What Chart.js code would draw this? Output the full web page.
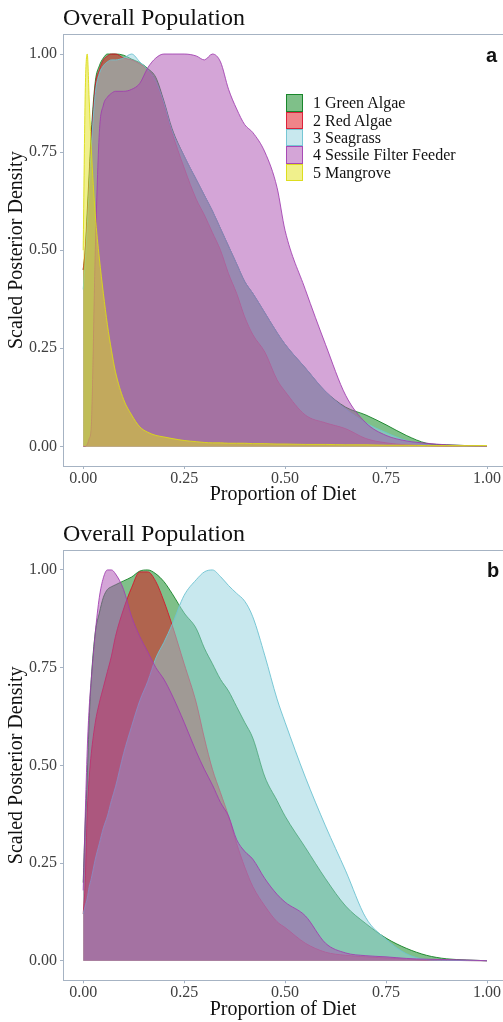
<!DOCTYPE html>
<html lang="en">
<head>
<meta charset="UTF-8">
<title>Overall Population</title>
<script src="https://cdn.jsdelivr.net/npm/chart.js@4"></script>
<style>
  body { margin: 0; width: 503px; height: 1022px; overflow: hidden; background: #fff; position: relative; font-family: "Liberation Serif", "Times New Roman", serif; }
  .panel { position: absolute; left: 0; width: 503px; }
  .panel canvas { position: absolute; left: 0; top: 0; }
  .title { position: absolute; left: 63px; font-size: 24px; line-height: 24px; color: #111; white-space: nowrap; }
  .tag { position: absolute; font-family: "Liberation Sans", Arial, sans-serif; font-weight: bold; font-size: 20px; line-height: 20px; color: #111; }
  .legend { position: absolute; left: 286px; top: 94.3px; font-size: 16px; color: #111; }
  .legend div { height: 17.4px; line-height: 17.4px; white-space: nowrap; }
  .legend .key { display: inline-block; width: 17px; height: 17.4px; box-sizing: border-box; border: 1px solid; vertical-align: top; margin-right: 10px; }
</style>
</head>
<body>
  <!-- panel a -->
  <div class="panel" style="top:0;height:510px">
    <canvas id="chartA" width="503" height="510"></canvas>
    <div class="title" style="top:5.3px">Overall Population</div>
    <div class="tag" style="left:486px;top:45px">a</div>
    <div class="legend" id="legendA"></div>
  </div>
  <!-- panel b -->
  <div class="panel" style="top:510px;height:512px">
    <canvas id="chartB" width="503" height="512"></canvas>
    <div class="title" style="top:10.8px">Overall Population</div>
    <div class="tag" style="left:487px;top:50px">b</div>
  </div>

<script>
// proportion of diet grid shared by all curves
const xs = [0, 0.005, 0.01, 0.015, 0.02, 0.03, 0.04, 0.05, 0.06, 0.07, 0.08, 0.10, 0.12, 0.14, 0.16, 0.18, 0.20, 0.22, 0.25, 0.28,
            0.30, 0.32, 0.34, 0.36, 0.38, 0.40, 0.42, 0.45, 0.48, 0.50, 0.55, 0.60, 0.65, 0.70, 0.75, 0.80, 0.85, 0.90, 0.95, 1.00];

const sourceNames = ["1 Green Algae", "2 Red Algae", "3 Seagrass", "4 Sessile Filter Feeder", "5 Mangrove"];

// panel a - scaled posterior density
const greenA    = [0.45, 0.5, 0.6, 0.7, 0.8, 0.93, 0.97, 0.99, 1.0, 1.0, 1.0, 0.997, 0.987, 0.978, 0.963, 0.94, 0.88, 0.81, 0.74, 0.68,
                   0.64, 0.6, 0.555, 0.51, 0.465, 0.42, 0.39, 0.34, 0.29, 0.26, 0.2, 0.14, 0.1, 0.08, 0.055, 0.028, 0.008, 0.004, 0.002, 0];
const redA      = [0.45, 0.5, 0.58, 0.68, 0.78, 0.92, 0.96, 0.985, 0.995, 1.0, 1.0, 0.99, 0.985, 0.975, 0.96, 0.93, 0.87, 0.8, 0.71, 0.63,
                   0.59, 0.545, 0.5, 0.44, 0.39, 0.33, 0.285, 0.24, 0.17, 0.14, 0.08, 0.06, 0.045, 0.02, 0.009, 0.004, 0.002, 0.001, 0.0005, 0];
const seagrassA = [0.4, 0.47, 0.56, 0.66, 0.76, 0.9, 0.95, 0.97, 0.98, 0.985, 0.985, 0.99, 1.0, 0.98, 0.96, 0.93, 0.875, 0.805, 0.74, 0.68,
                   0.64, 0.6, 0.555, 0.51, 0.465, 0.42, 0.39, 0.34, 0.29, 0.26, 0.2, 0.14, 0.095, 0.06, 0.035, 0.015, 0.004, 0.002, 0.001, 0];
const sessileA  = [0, 0, 0.005, 0.02, 0.05, 0.5, 0.8, 0.87, 0.89, 0.9, 0.905, 0.905, 0.91, 0.925, 0.965, 0.99, 1.0, 1.0, 1.0, 0.995,
                   0.985, 1.0, 0.98, 0.91, 0.86, 0.82, 0.8, 0.75, 0.66, 0.55, 0.4, 0.26, 0.13, 0.06, 0.028, 0.014, 0.008, 0.004, 0.002, 0];
const mangroveA = [0.5, 0.9, 1.0, 0.88, 0.76, 0.59, 0.48, 0.39, 0.31, 0.245, 0.19, 0.12, 0.08, 0.05, 0.036, 0.028, 0.024, 0.02, 0.015, 0.012,
                   0.01, 0.009, 0.009, 0.008, 0.008, 0.008, 0.007, 0.007, 0.006, 0.006, 0.005, 0.005, 0.004, 0.004, 0.003, 0.003, 0.002, 0.002, 0.002, 0.002];

// panel b
const greenB    = [0.2, 0.35, 0.47, 0.62, 0.72, 0.84, 0.89, 0.93, 0.95, 0.957, 0.962, 0.972, 0.982, 0.997, 1.0, 0.99, 0.97, 0.94, 0.89, 0.85,
                   0.8, 0.76, 0.72, 0.69, 0.65, 0.61, 0.57, 0.47, 0.41, 0.37, 0.29, 0.21, 0.14, 0.095, 0.058, 0.032, 0.014, 0.005, 0.002, 0];
const redB      = [0.12, 0.2, 0.38, 0.47, 0.53, 0.61, 0.66, 0.7, 0.74, 0.78, 0.83, 0.9, 0.955, 0.995, 0.995, 0.97, 0.92, 0.86, 0.76, 0.66,
                   0.57, 0.49, 0.43, 0.37, 0.3, 0.24, 0.19, 0.14, 0.1, 0.085, 0.045, 0.022, 0.014, 0.01, 0.007, 0.004, 0.002, 0.001, 0.0005, 0];
const seagrassB = [0.12, 0.14, 0.16, 0.19, 0.21, 0.26, 0.3, 0.34, 0.37, 0.41, 0.445, 0.53, 0.6, 0.665, 0.715, 0.775, 0.815, 0.86, 0.935, 0.975,
                   0.995, 1.0, 0.983, 0.96, 0.94, 0.92, 0.88, 0.78, 0.67, 0.61, 0.47, 0.345, 0.23, 0.11, 0.055, 0.018, 0.003, 0.001, 0.0005, 0];
const sessileB  = [0.18, 0.37, 0.54, 0.65, 0.72, 0.84, 0.93, 0.98, 1.0, 1.0, 0.99, 0.95, 0.88, 0.83, 0.79, 0.75, 0.72, 0.68, 0.61, 0.535,
                   0.49, 0.45, 0.405, 0.37, 0.31, 0.28, 0.26, 0.21, 0.17, 0.15, 0.115, 0.045, 0.02, 0.013, 0.01, 0.006, 0.004, 0.003, 0.002, 0];

const xTicks = [0, 0.25, 0.5, 0.75, 1];
const yTicks = [0, 0.25, 0.5, 0.75, 1];

const fillColors = ["rgba(0,130,20,0.5)", "rgba(225,10,20,0.5)", "rgba(145,209,221,0.5)", "rgba(169,75,175,0.5)", "rgba(225,225,25,0.5)"];
const lineColors = ["rgba(0,120,20,0.8)", "rgba(215,10,40,0.8)", "rgba(110,195,210,0.9)", "rgba(160,60,175,0.85)", "rgba(220,220,20,0.9)"];
const axisColor = "#a6b3c3";
const serif = "'Liberation Serif', 'Times New Roman', serif";

// horizontal line along the top of the panel
const topLine = {
    id: "topLine",
    afterDraw(chart) {
        const { ctx, chartArea } = chart;
        const y = Math.round(chartArea.top) + 0.5;
        ctx.save();
        ctx.strokeStyle = axisColor;
        ctx.lineWidth = 1;
        ctx.beginPath();
        ctx.moveTo(chartArea.left, y);
        ctx.lineTo(chartArea.right, y);
        ctx.stroke();
        ctx.restore();
    }
};

function densityChart(id, curves, padTop, xAxisHeight, xTitlePad) {
    const datasets = curves.map(([k, values]) => ({
        label: sourceNames[k],
        data: xs.map((x, i) => ({ x: x, y: values[i] })),
        backgroundColor: fillColors[k],
        borderColor: lineColors[k],
        borderWidth: 1,
        fill: "origin",
        pointRadius: 0,
        cubicInterpolationMode: "monotone",
        order: -k
    }));

    return new Chart(document.getElementById(id), {
        type: "line",
        data: { datasets },
        plugins: [topLine],
        options: {
            responsive: false,
            animation: false,
            devicePixelRatio: 1,
            layout: { padding: { top: padTop, left: 0, right: 0, bottom: 0 } },
            plugins: { legend: { display: false }, tooltip: { enabled: false } },
            scales: {
                x: {
                    type: "linear",
                    min: -0.05,
                    max: 1.0396,
                    afterBuildTicks: s => { s.ticks = xTicks.map(v => ({ value: v })); },
                    afterFit: s => { s.height = xAxisHeight; },
                    ticks: { callback: v => v.toFixed(2), color: "#404040", font: { family: serif, size: 16 }, padding: 0, maxRotation: 0, autoSkip: false },
                    grid: { drawOnChartArea: false, drawTicks: true, tickLength: 3, tickColor: axisColor },
                    border: { color: axisColor, width: 1 },
                    title: { display: true, text: "Proportion of Diet", color: "#111", font: { family: serif, size: 20 }, padding: { top: 0, bottom: xTitlePad } }
                },
                y: {
                    type: "linear",
                    min: -0.05,
                    max: 1.05,
                    afterBuildTicks: s => { s.ticks = yTicks.map(v => ({ value: v })); },
                    afterFit: s => { s.width = 63; },
                    ticks: { callback: v => v.toFixed(2), color: "#404040", font: { family: serif, size: 16 }, padding: 3 },
                    grid: { drawOnChartArea: false, drawTicks: true, tickLength: 3, tickColor: axisColor },
                    border: { color: axisColor, width: 1 },
                    title: { display: true, text: "Scaled Posterior Density", color: "#111", font: { family: serif, size: 20 }, padding: { top: 5, bottom: 0 } }
                }
            }
        }
    });
}

densityChart("chartA", [[0, greenA], [1, redA], [2, seagrassA], [3, sessileA], [4, mangroveA]], 34.4, 44, 3.5);
densityChart("chartB", [[0, greenB], [1, redB], [2, seagrassB], [3, sessileB]], 40.4, 41.7, 0.5);

// legend for panel a
const legendA = document.getElementById("legendA");
sourceNames.forEach((name, k) => {
    const row = document.createElement("div");
    const key = document.createElement("span");
    key.className = "key";
    key.style.background = fillColors[k];
    key.style.borderColor = lineColors[k];
    row.appendChild(key);
    row.appendChild(document.createTextNode(name));
    legendA.appendChild(row);
});
</script>
</body>
</html>
